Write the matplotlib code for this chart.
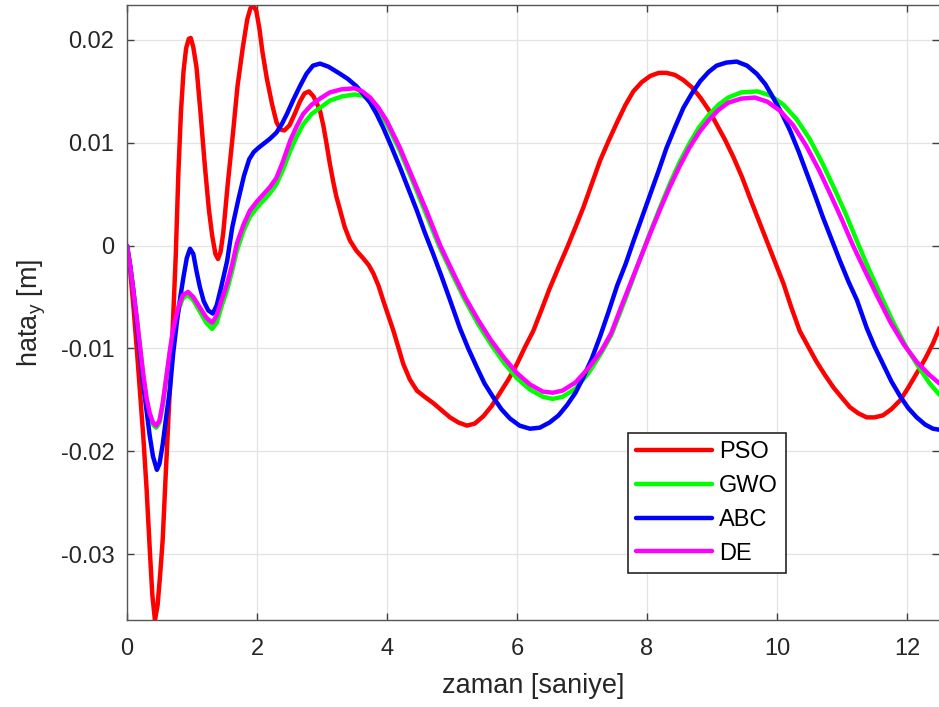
import matplotlib
matplotlib.use("Agg")
import matplotlib.pyplot as plt

# --- data (time [s], error [m]) ---
t_pso = [0.00, 0.05, 0.10, 0.15, 0.20, 0.25, 0.30, 0.35, 0.39, 0.43, 0.47, 0.51, 0.55, 0.59,
         0.63, 0.67, 0.71, 0.75, 0.79, 0.83, 0.87, 0.91, 0.95, 0.98, 1.02, 1.07, 1.13, 1.20,
         1.26, 1.31, 1.36, 1.40, 1.44, 1.48, 1.55, 1.63, 1.70, 1.78, 1.85, 1.90, 1.94, 1.99,
         2.04, 2.08, 2.15, 2.23, 2.30, 2.36, 2.42, 2.50, 2.58, 2.66, 2.73, 2.80, 2.87, 2.93,
         2.97, 3.02, 3.07, 3.12, 3.17, 3.22, 3.28, 3.35, 3.43, 3.53, 3.63, 3.72, 3.79, 3.87,
         3.94, 4.02, 4.10, 4.18, 4.25, 4.35, 4.46, 4.58, 4.71, 4.84, 4.97, 5.10, 5.23, 5.35,
         5.48, 5.61, 5.74, 5.87, 6.00, 6.12, 6.25, 6.38, 6.50, 6.64, 6.77, 6.90, 7.02, 7.15,
         7.28, 7.41, 7.54, 7.67, 7.79, 7.92, 8.05, 8.18, 8.30, 8.43, 8.56, 8.69, 8.82, 8.95,
         9.07, 9.20, 9.33, 9.46, 9.58, 9.71, 9.84, 9.97, 10.10, 10.22, 10.35, 10.48, 10.60,
         10.74, 10.87, 11.00, 11.12, 11.25, 11.38, 11.50, 11.63, 11.76, 11.90, 12.02, 12.15,
         12.28, 12.40, 12.50]
pso = [0.0000, -0.0025, -0.0060, -0.0100, -0.0143, -0.0185, -0.0235, -0.0295, -0.0340, -0.0364,
       -0.0350, -0.0320, -0.0285, -0.0230, -0.0178, -0.0125, -0.0070, -0.0010, 0.0070, 0.0130,
       0.0170, 0.0192, 0.0201, 0.0202, 0.0193, 0.0173, 0.0130, 0.0076, 0.0035, 0.0010, -0.0008,
       -0.0013, -0.0006, 0.0012, 0.0060, 0.0109, 0.0155, 0.0192, 0.0220, 0.0231, 0.0234, 0.0228,
       0.0210, 0.0190, 0.0163, 0.0138, 0.0120, 0.0113, 0.0112, 0.0117, 0.0128, 0.0140, 0.0148,
       0.0150, 0.0145, 0.0137, 0.0131, 0.0117, 0.0099, 0.0080, 0.0063, 0.0048, 0.0034, 0.0018,
       0.0005, -0.0005, -0.0012, -0.0019, -0.0027, -0.0039, -0.0053, -0.0068, -0.0083, -0.0100,
       -0.0115, -0.0130, -0.0141, -0.0147, -0.0153, -0.0160, -0.0167, -0.0172, -0.0175, -0.0173,
       -0.0166, -0.0156, -0.0143, -0.0130, -0.0115, -0.0099, -0.0083, -0.0062, -0.0042, -0.0021,
       -0.0002, 0.0018, 0.0037, 0.0060, 0.0083, 0.0102, 0.0120, 0.0137, 0.0150, 0.0159, 0.0165,
       0.0168, 0.0168, 0.0166, 0.0161, 0.0154, 0.0144, 0.0132, 0.0118, 0.0103, 0.0086, 0.0067,
       0.0047, 0.0026, 0.0005, -0.0016, -0.0037, -0.0060, -0.0083, -0.0098, -0.0112, -0.0126,
       -0.0138, -0.0148, -0.0157, -0.0163, -0.0167, -0.0167, -0.0165, -0.0159, -0.0150, -0.0138,
       -0.0124, -0.0110, -0.0095, -0.0080]

t_gwo = [0.00, 0.05, 0.10, 0.15, 0.20, 0.25, 0.30, 0.35, 0.40, 0.45, 0.50, 0.55, 0.60, 0.66,
         0.70, 0.74, 0.80, 0.86, 0.94, 1.02, 1.12, 1.22, 1.31, 1.38, 1.46, 1.54, 1.62, 1.69,
         1.79, 1.89, 2.00, 2.10, 2.20, 2.30, 2.40, 2.51, 2.61, 2.71, 2.84, 2.97, 3.12, 3.30,
         3.50, 3.62, 3.74, 3.87, 4.00, 4.20, 4.40, 4.60, 4.80, 5.00, 5.20, 5.40, 5.60, 5.80,
         6.00, 6.20, 6.40, 6.55, 6.70, 6.90, 7.10, 7.30, 7.45, 7.60, 7.75, 7.90, 8.05, 8.20,
         8.35, 8.50, 8.65, 8.80, 8.95, 9.10, 9.25, 9.45, 9.70, 9.90, 10.10, 10.30, 10.50,
         10.70, 10.90, 11.05, 11.22, 11.40, 11.60, 11.80, 12.00, 12.20, 12.35, 12.50]
gwo = [0.0000, -0.0020, -0.0045, -0.0071, -0.0099, -0.0127, -0.0150, -0.0165, -0.0174, -0.0177,
       -0.0172, -0.0155, -0.0132, -0.0104, -0.0088, -0.0076, -0.0061, -0.0051, -0.0048, -0.0053,
       -0.0064, -0.0075, -0.0081, -0.0075, -0.0058, -0.0043, -0.0024, -0.0005, 0.0014, 0.0028,
       0.0037, 0.0044, 0.0051, 0.0060, 0.0074, 0.0092, 0.0106, 0.0118, 0.0128, 0.0134, 0.0141,
       0.0145, 0.0147, 0.0146, 0.0141, 0.0131, 0.0118, 0.0092, 0.0062, 0.0031, 0.0000, -0.0027,
       -0.0053, -0.0076, -0.0096, -0.0114, -0.0129, -0.0140, -0.0147, -0.0149, -0.0147, -0.0139,
       -0.0124, -0.0104, -0.0087, -0.0063, -0.0038, -0.0012, 0.0013, 0.0037, 0.0060, 0.0081,
       0.0099, 0.0115, 0.0127, 0.0137, 0.0144, 0.0149, 0.0150, 0.0146, 0.0137, 0.0123, 0.0104,
       0.0080, 0.0053, 0.0032, 0.0006, -0.0021, -0.0049, -0.0076, -0.0100, -0.0120, -0.0134,
       -0.0145]

t_abc = [0.00, 0.05, 0.10, 0.15, 0.20, 0.25, 0.30, 0.35, 0.40, 0.46, 0.50, 0.55, 0.60, 0.66,
         0.71, 0.77, 0.82, 0.87, 0.92, 0.97, 1.02, 1.07, 1.12, 1.18, 1.25, 1.32, 1.38, 1.45,
         1.54, 1.62, 1.71, 1.80, 1.88, 1.95, 2.02, 2.10, 2.20, 2.30, 2.38, 2.46, 2.56, 2.66,
         2.76, 2.86, 2.97, 3.10, 3.28, 3.40, 3.53, 3.64, 3.74, 3.84, 3.94, 4.07, 4.20, 4.33,
         4.46, 4.58, 4.71, 4.84, 4.97, 5.12, 5.25, 5.38, 5.50, 5.63, 5.76, 5.89, 6.04, 6.20,
         6.35, 6.50, 6.64, 6.77, 6.90, 7.02, 7.15, 7.28, 7.41, 7.54, 7.67, 7.79, 7.92, 8.05,
         8.18, 8.30, 8.43, 8.56, 8.69, 8.82, 8.95, 9.07, 9.22, 9.38, 9.54, 9.69, 9.82, 9.94,
         10.07, 10.20, 10.33, 10.46, 10.59, 10.71, 10.84, 10.97, 11.10, 11.23, 11.38, 11.50,
         11.63, 11.76, 11.90, 12.02, 12.15, 12.28, 12.40, 12.50]
abc = [0.0000, -0.0020, -0.0045, -0.0075, -0.0105, -0.0135, -0.0160, -0.0185, -0.0205, -0.0218,
       -0.0212, -0.0193, -0.0168, -0.0140, -0.0105, -0.0073, -0.0050, -0.0030, -0.0012, -0.0003,
       -0.0008, -0.0025, -0.0040, -0.0054, -0.0063, -0.0066, -0.0058, -0.0040, -0.0015, 0.0018,
       0.0044, 0.0068, 0.0084, 0.0091, 0.0095, 0.0099, 0.0104, 0.0110, 0.0118, 0.0128, 0.0142,
       0.0155, 0.0167, 0.0175, 0.0177, 0.0174, 0.0167, 0.0162, 0.0155, 0.0147, 0.0139, 0.0128,
       0.0115, 0.0096, 0.0076, 0.0055, 0.0034, 0.0013, -0.0008, -0.0030, -0.0053, -0.0080,
       -0.0100, -0.0118, -0.0134, -0.0147, -0.0159, -0.0168, -0.0175, -0.0178, -0.0177, -0.0172,
       -0.0165, -0.0155, -0.0143, -0.0128, -0.0110, -0.0088, -0.0064, -0.0039, -0.0018, 0.0004,
       0.0027, 0.0050, 0.0073, 0.0095, 0.0115, 0.0134, 0.0148, 0.0160, 0.0169, 0.0175, 0.0178,
       0.0179, 0.0175, 0.0167, 0.0157, 0.0144, 0.0129, 0.0112, 0.0092, 0.0070, 0.0048, 0.0027,
       0.0006, -0.0015, -0.0035, -0.0053, -0.0080, -0.0098, -0.0115, -0.0132, -0.0147, -0.0158,
       -0.0167, -0.0174, -0.0178, -0.0179]

t_de = [0.00, 0.05, 0.10, 0.15, 0.20, 0.25, 0.30, 0.35, 0.40, 0.45, 0.50, 0.55, 0.60, 0.66,
        0.70, 0.74, 0.80, 0.86, 0.94, 1.02, 1.12, 1.22, 1.31, 1.38, 1.46, 1.54, 1.62, 1.69,
        1.79, 1.89, 2.00, 2.10, 2.20, 2.30, 2.40, 2.51, 2.61, 2.71, 2.84, 2.97, 3.12, 3.30,
        3.50, 3.62, 3.74, 3.87, 4.00, 4.20, 4.40, 4.60, 4.82, 5.00, 5.20, 5.40, 5.60, 5.80,
        6.00, 6.20, 6.40, 6.55, 6.70, 6.90, 7.10, 7.30, 7.45, 7.60, 7.75, 7.90, 8.05, 8.20,
        8.35, 8.50, 8.65, 8.80, 8.95, 9.10, 9.25, 9.45, 9.66, 9.85, 10.05, 10.25, 10.45,
        10.65, 10.85, 11.00, 11.17, 11.35, 11.55, 11.75, 11.95, 12.15, 12.35, 12.50]
de = [0.0000, -0.0020, -0.0045, -0.0070, -0.0098, -0.0125, -0.0148, -0.0163, -0.0172, -0.0175,
      -0.0170, -0.0153, -0.0130, -0.0102, -0.0085, -0.0073, -0.0058, -0.0048, -0.0045, -0.0050,
      -0.0060, -0.0070, -0.0075, -0.0068, -0.0052, -0.0037, -0.0018, 0.0002, 0.0020, 0.0034,
      0.0043, 0.0050, 0.0057, 0.0066, 0.0082, 0.0102, 0.0116, 0.0128, 0.0137, 0.0143, 0.0149,
      0.0152, 0.0153, 0.0150, 0.0144, 0.0134, 0.0121, 0.0095, 0.0065, 0.0035, 0.0000, -0.0024,
      -0.0050, -0.0072, -0.0092, -0.0109, -0.0124, -0.0135, -0.0142, -0.0143, -0.0141, -0.0133,
      -0.0119, -0.0102, -0.0085, -0.0060, -0.0036, -0.0012, 0.0012, 0.0035, 0.0057, 0.0077,
      0.0095, 0.0110, 0.0122, 0.0132, 0.0139, 0.0143, 0.0144, 0.0140, 0.0131, 0.0117, 0.0097,
      0.0073, 0.0046, 0.0025, 0.0000, -0.0024, -0.0050, -0.0075, -0.0096, -0.0113, -0.0126,
      -0.0134]

xticks = [0, 2, 4, 6, 8, 10, 12]
yticks = [-0.03, -0.02, -0.01, 0, 0.01, 0.02]
ytick_labels = ["-0.03", "-0.02", "-0.01", "0", "0.01", "0.02"]

plt.rcParams['font.family'] = ['Liberation Sans', 'DejaVu Sans']
plt.rcParams['axes.unicode_minus'] = False

fig = plt.figure(figsize=(9.39, 7.07), dpi=100)
ax = fig.add_axes([127 / 939, 1 - 620 / 707, 812.5 / 939, 615 / 707])

style = dict(lw=3.2, solid_joinstyle='round', solid_capstyle='round')
ax.plot(t_pso, pso, color=(1, 0, 0), label='PSO', **style)
ax.plot(t_gwo, gwo, color=(0, 1, 0), label='GWO', **style)
ax.plot(t_abc, abc, color=(0, 0, 1), label='ABC', **style)
ax.plot(t_de, de, color=(1, 0, 1), label='DE', **style)

ax.set_xlim(0, 12.5)
ax.set_ylim(-0.0364, 0.0234)
ax.set_xticks(xticks)
ax.set_yticks(yticks)
ax.set_yticklabels(ytick_labels)

ax.grid(True, color='#e3e3e3', lw=0.9)
ax.set_axisbelow(True)
ax.tick_params(direction='in', length=5, width=1, colors='#404040', labelcolor='#262626',
               labelsize=17, top=True, right=True)
ax.tick_params(axis='y', pad=9)
ax.tick_params(axis='x', pad=13)
for s in ['left', 'bottom', 'top']:
    ax.spines[s].set_color('#555555')
    ax.spines[s].set_linewidth(1)
ax.spines['right'].set_visible(False)

ax.set_xlabel('zaman [saniye]', fontsize=19.5, color='#262626', labelpad=9)
ax.set_ylabel('hata$_\\mathregular{y}$ [m]', fontsize=19.5, color='#262626', labelpad=9)

leg = ax.legend(loc='upper left', bbox_to_anchor=((628 - 127) / 812.5, (620 - 433) / 615),
                borderaxespad=0, fontsize=17, fancybox=False, framealpha=1,
                edgecolor='#262626', handlelength=3.2, handletextpad=0.3,
                labelspacing=0.5, borderpad=0.35)
leg.get_frame().set_linewidth(1.2)

fig.savefig('out.png', dpi=100)
